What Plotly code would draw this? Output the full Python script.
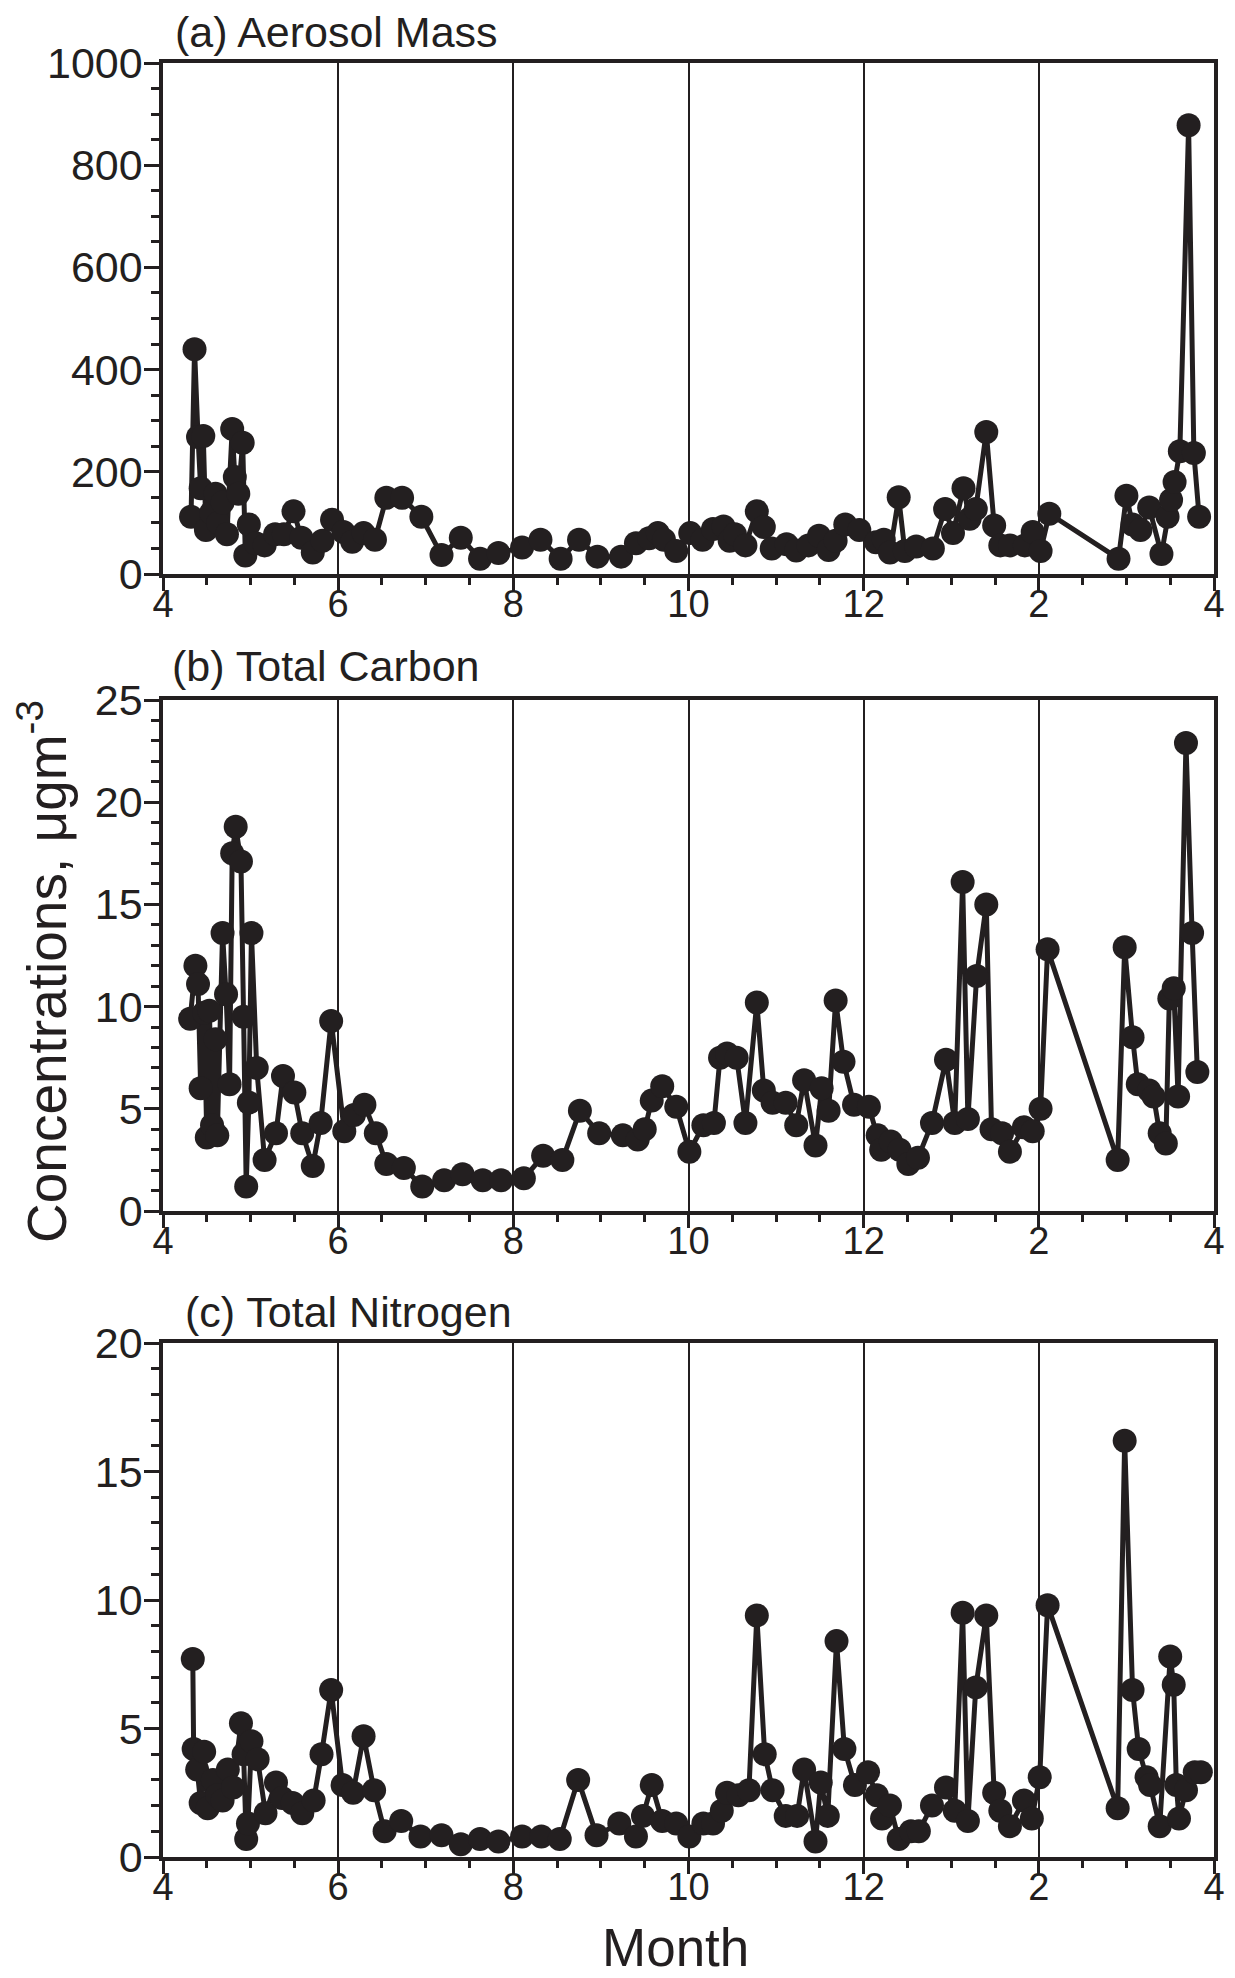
import plotly.graph_objects as go

# ---------------- data (month index: 4 = Apr ... 12 = Dec, 14 = Feb, 16 = Apr) ----------------
month_a = [4.32, 4.36, 4.40, 4.43, 4.46, 4.49, 4.55, 4.60, 4.63, 4.68, 4.73, 4.79, 4.82, 4.86,
           4.91, 4.94, 4.98, 5.06, 5.16, 5.28, 5.38, 5.49, 5.58, 5.71, 5.82, 5.93, 6.06, 6.16,
           6.29, 6.42, 6.55, 6.73, 6.95, 7.18, 7.40, 7.62, 7.83, 8.10, 8.31, 8.54, 8.75, 8.96,
           9.23, 9.40, 9.55, 9.65, 9.72, 9.86, 10.02, 10.16, 10.28, 10.40, 10.47, 10.53, 10.65,
           10.78, 10.86, 10.95, 11.12, 11.23, 11.37, 11.49, 11.60, 11.68, 11.79, 11.95, 12.14,
           12.23, 12.30, 12.40, 12.47, 12.60, 12.79, 12.93, 13.02, 13.14, 13.21, 13.28, 13.40,
           13.49, 13.56, 13.67, 13.84, 13.93, 14.02, 14.12, 14.91, 15.00, 15.07, 15.16, 15.26,
           15.40, 15.47, 15.51, 15.55, 15.61, 15.71, 15.77, 15.83]
mass_a = [112, 440, 268, 168, 270, 86, 120, 157, 100, 140, 78, 284, 190, 157,
          257, 36, 97, 60, 56, 78, 78, 123, 71, 42, 65, 106, 82, 63,
          80, 67, 149, 149, 112, 37, 71, 30, 41, 52, 67, 30, 67, 34,
          34, 60, 70, 80, 67, 45, 80, 67, 88, 93, 65, 78, 56,
          123, 92, 50, 58, 46, 56, 75, 47, 65, 97, 86, 62,
          67, 42, 150, 45, 54, 50, 127, 80, 168, 108, 127, 278,
          95, 56, 56, 56, 82, 45, 118, 30, 153, 97, 86, 130,
          39, 112, 145, 180, 240, 878, 237, 112]

month_b = [4.31, 4.37, 4.40, 4.43, 4.47, 4.50, 4.53, 4.56, 4.60, 4.62, 4.68, 4.72, 4.76, 4.79,
           4.83, 4.89, 4.92, 4.95, 4.98, 5.01, 5.07, 5.16, 5.29, 5.37, 5.50, 5.59, 5.71, 5.80,
           5.92, 6.07, 6.18, 6.30, 6.43, 6.55, 6.75, 6.96, 7.21, 7.42, 7.65, 7.86, 8.12, 8.34,
           8.56, 8.76, 8.98, 9.25, 9.42, 9.50, 9.58, 9.70, 9.86, 10.01, 10.17, 10.29, 10.36,
           10.44, 10.55, 10.65, 10.78, 10.86, 10.96, 11.11, 11.23, 11.32, 11.45, 11.52, 11.60,
           11.68, 11.77, 11.89, 12.06, 12.16, 12.20, 12.31, 12.41, 12.51, 12.62, 12.78, 12.94,
           13.04, 13.13, 13.19, 13.29, 13.40, 13.46, 13.58, 13.67, 13.83, 13.93, 14.02, 14.10,
           14.90, 14.98, 15.07, 15.13, 15.26, 15.31, 15.38, 15.45, 15.49, 15.54, 15.59, 15.68,
           15.75, 15.81]
carbon_b = [9.4, 12.0, 11.1, 6.0, 9.7, 3.6, 9.8, 4.2, 8.4, 3.7, 13.6, 10.6, 6.2, 17.5,
            18.8, 17.1, 9.5, 1.2, 5.3, 13.6, 7.0, 2.5, 3.8, 6.6, 5.8, 3.8, 2.2, 4.3,
            9.3, 3.9, 4.7, 5.2, 3.8, 2.3, 2.1, 1.2, 1.5, 1.8, 1.5, 1.5, 1.6, 2.7,
            2.5, 4.9, 3.8, 3.7, 3.5, 4.0, 5.4, 6.1, 5.1, 2.9, 4.2, 4.3, 7.5,
            7.7, 7.5, 4.3, 10.2, 5.9, 5.3, 5.3, 4.2, 6.4, 3.2, 6.0, 4.9,
            10.3, 7.3, 5.2, 5.1, 3.7, 3.0, 3.4, 3.0, 2.3, 2.6, 4.3, 7.4,
            4.3, 16.1, 4.5, 11.5, 15.0, 4.0, 3.8, 2.9, 4.1, 3.9, 5.0, 12.8,
            2.5, 12.9, 8.5, 6.2, 5.9, 5.6, 3.8, 3.3, 10.4, 10.9, 5.6, 22.9,
            13.6, 6.8]

month_c = [4.34, 4.35, 4.39, 4.43, 4.47, 4.51, 4.57, 4.62, 4.68, 4.74, 4.80, 4.89, 4.92, 4.95,
           4.97, 5.01, 5.08, 5.17, 5.29, 5.36, 5.48, 5.59, 5.72, 5.81, 5.92, 6.05, 6.17, 6.29,
           6.41, 6.53, 6.72, 6.94, 7.18, 7.40, 7.62, 7.83, 8.10, 8.32, 8.53, 8.74, 8.95, 9.21,
           9.40, 9.48, 9.58, 9.70, 9.86, 10.01, 10.17, 10.28, 10.38, 10.44, 10.57, 10.69, 10.78,
           10.87, 10.96, 11.11, 11.24, 11.32, 11.45, 11.51, 11.59, 11.69, 11.78, 11.90, 12.05,
           12.15, 12.21, 12.30, 12.40, 12.54, 12.63, 12.78, 12.94, 13.04, 13.13, 13.19, 13.28,
           13.40, 13.49, 13.56, 13.67, 13.83, 13.92, 14.01, 14.10, 14.90, 14.98, 15.07, 15.14,
           15.23, 15.27, 15.38, 15.50, 15.54, 15.57, 15.60, 15.68, 15.78, 15.85]
nitrogen_c = [7.7, 4.2, 3.4, 2.1, 4.1, 1.9, 3.0, 2.4, 2.2, 3.4, 2.7, 5.2, 4.0, 0.7,
              1.3, 4.5, 3.8, 1.7, 2.9, 2.3, 2.1, 1.7, 2.2, 4.0, 6.5, 2.8, 2.5, 4.7,
              2.6, 1.0, 1.4, 0.8, 0.85, 0.5, 0.7, 0.6, 0.8, 0.8, 0.7, 3.0, 0.85, 1.3,
              0.8, 1.6, 2.8, 1.4, 1.3, 0.8, 1.3, 1.3, 1.8, 2.5, 2.4, 2.6, 9.4,
              4.0, 2.6, 1.6, 1.6, 3.4, 0.6, 2.9, 1.6, 8.4, 4.2, 2.8, 3.3,
              2.4, 1.5, 2.0, 0.7, 1.0, 1.0, 2.0, 2.7, 1.8, 9.5, 1.4, 6.6,
              9.4, 2.5, 1.8, 1.2, 2.2, 1.5, 3.1, 9.8, 1.9, 16.2, 6.5, 4.2,
              3.1, 2.8, 1.2, 7.8, 6.7, 2.8, 1.5, 2.6, 3.3, 3.3]

x_tickvals = [4, 6, 8, 10, 12, 14, 16]
x_ticktext = ["4", "6", "8", "10", "12", "2", "4"]
panel_titles = ["(a) Aerosol Mass", "(b) Total Carbon", "(c) Total Nitrogen"]
y_ranges = [[0, 1000], [0, 25], [0, 20]]
y_dticks = [200, 5, 5]
y_minor = [50, 1, 1]

# ---------------- styling ----------------
INK = "#231f20"
FONT = "Liberation Sans, Arial, Helvetica, sans-serif"

OFF = 8  # page body margin of the html page
W, H = 1235 - OFF, 1978 - OFF
X0, X1 = 163, 1214
L = X0 - OFF
R = W - (X1 - OFF)
T = 63 - OFF
B = H - (1857 - OFF)
plot_h = H - T - B
plot_w = W - L - R

def py(px):  # window pixel row -> paper y
    return 1 - (px - OFF - T) / plot_h

def pxx(px):  # window pixel column -> paper x
    return (px - OFF - L) / plot_w

domains = [[py(574), py(63)], [py(1211), py(700)], [py(1857), py(1343)]]

fig = go.Figure()
series = [(month_a, mass_a), (month_b, carbon_b), (month_c, nitrogen_c)]
for i, (xs, ys) in enumerate(series):
    sfx = "" if i == 0 else str(i + 1)
    fig.add_trace(go.Scatter(
        x=xs, y=ys, mode="lines+markers",
        line=dict(color=INK, width=5),
        marker=dict(color=INK, size=24),
        xaxis="x" + sfx, yaxis="y" + sfx, showlegend=False,
        cliponaxis=False,
    ))

layout = dict(
    width=W, height=H,
    margin=dict(l=L, r=R, t=T, b=B, pad=0, autoexpand=False),
    paper_bgcolor="white", plot_bgcolor="white",
    font=dict(family=FONT, color=INK),
    showlegend=False,
)

for i in range(3):
    sfx = "" if i == 0 else str(i + 1)
    layout["xaxis" + sfx] = dict(
        domain=[0, 1], anchor="y" + sfx, range=[4, 16],
        tickvals=x_tickvals, ticktext=x_ticktext,
        ticks="outside", ticklen=13, tickwidth=3, tickcolor=INK,
        minor=dict(dtick=0.5, tick0=4, ticks="outside", ticklen=7, tickwidth=3, tickcolor=INK, showgrid=False),
        showline=True, linewidth=3.5, linecolor=INK, mirror=True,
        showgrid=True, gridcolor=INK, gridwidth=1.6,
        zeroline=False, automargin=False,
        tickfont=dict(family=FONT, size=38, color=INK),
        ticklabelstandoff=-19,
    )
    layout["yaxis" + sfx] = dict(
        domain=domains[i], anchor="x" + sfx, range=y_ranges[i],
        dtick=y_dticks[i], tick0=0,
        ticks="outside", ticklen=15, tickwidth=3, tickcolor=INK,
        minor=dict(dtick=y_minor[i], tick0=0, ticks="outside", ticklen=8, tickwidth=3, tickcolor=INK, showgrid=False),
        showline=True, linewidth=3.5, linecolor=INK, mirror=True,
        showgrid=False, zeroline=False, automargin=False,
        tickfont=dict(family=FONT, size=43, color=INK),
        ticklabelstandoff=-7,
    )

fig.update_layout(**layout)

title_pos = [(173, 32), (170, 666), (183, 1312)]
for t, (tx, ty) in zip(panel_titles, title_pos):
    fig.add_annotation(text=t, xref="paper", yref="paper", x=pxx(tx), y=py(ty),
                       xanchor="left", yanchor="middle", showarrow=False,
                       font=dict(family=FONT, size=43, color=INK))

fig.add_annotation(text="Concentrations, μgm<sup>-3</sup>", xref="paper", yref="paper",
                   x=pxx(43), y=py(972), xanchor="center", yanchor="middle",
                   textangle=-90, showarrow=False,
                   font=dict(family=FONT, size=55, color=INK))
fig.add_annotation(text="Month", xref="paper", yref="paper",
                   x=pxx(675), y=py(1947), xanchor="center", yanchor="middle",
                   showarrow=False, font=dict(family=FONT, size=53, color=INK))

fig.write_html("out.html")
